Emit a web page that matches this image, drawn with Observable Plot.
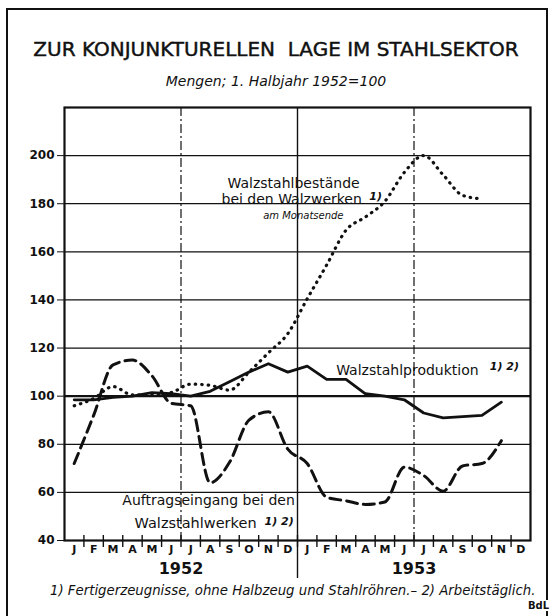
<!DOCTYPE html>
<html><head><meta charset="utf-8">
<script src="https://cdn.jsdelivr.net/npm/d3@7"></script>
<script src="https://cdn.jsdelivr.net/npm/@observablehq/plot@0.6"></script>
<style>
body{margin:0;background:#fff;}
#wrap{position:relative;width:552px;height:616px;overflow:hidden;font-family:"DejaVu Sans",sans-serif;color:#111;background:#fff;}
#chart{position:absolute;left:0;top:0;}
#border{position:absolute;left:6px;top:8px;width:542px;height:640px;border:2px solid #111;box-sizing:border-box;}
.t{position:absolute;white-space:nowrap;}
#title{top:37px;left:0;width:552px;text-align:center;font-size:20px;-webkit-text-stroke:0.45px #111;}
#subtitle{top:73px;left:0;width:552px;text-align:center;font-size:14px;font-style:italic;}
#foot{top:583px;left:50px;font-size:13.3px;font-style:italic;}
#bdl{top:600px;left:527px;font-size:10px;font-weight:bold;background:#fff;padding:0 1px;}
</style></head><body>
<div id="wrap">
<div id="chart"></div>
<div id="border"></div>
<div class="t" id="title"></div>
<div class="t" id="subtitle"></div>
<div class="t" id="foot"></div>
<div class="t" id="bdl"></div>
</div>
<script>
// ---- texts ----
const titleText = "ZUR KONJUNKTURELLEN\u00a0 LAGE IM STAHLSEKTOR";
const subtitleText = "Mengen; 1. Halbjahr 1952=100";
const footText = "1) Fertigerzeugnisse, ohne Halbzeug und Stahlröhren.– 2) Arbeitstäglich.";
const creditText = "BdL";

// ---- categories / ticks ----
const months = ["J","F","M","A","M","J","J","A","S","O","N","D"];
const years = ["1952","1953"];
const yTicks = [40,60,80,100,120,140,160,180,200];

// ---- series (monthly, from Jan 1952) ----
const auftragseingang = [72,92,113,115,108.5,97,96,64,72.5,90,93.5,78, 72,58,56.5,55,56,70.5,67,60.5,71,72,81.5];
const produktion = [98.5,98.5,99.5,100,101.5,101,100,102,106,110,113.5,110, 112.5,107,107,101,100,98.5,93,91,91.5,92,97.5];
const bestaende = [96,99,104,100.5,100.5,101.5,105,104.5,102.5,110,118,126, 140.5,154.5,169,174.5,181,193,200,192,183.5,182];

// ---- series labels ----
const labelBestaende = ["Walzstahlbestände","bei den Walzwerken","1)","am Monatsende"];
const labelProduktion = ["Walzstahlproduktion","1) 2)"];
const labelAuftrag = ["Auftragseingang bei den","Walzstahlwerken","1) 2)"];

document.getElementById("title").textContent = titleText;
document.getElementById("subtitle").textContent = subtitleText;
document.getElementById("foot").textContent = footText;
document.getElementById("bdl").textContent = creditText;

const toPts = vals => vals.map((v,i)=>({x:i+0.5, y:v}));
const nMonths = months.length*years.length;
const centers = d3.range(nMonths).map(i=>i+0.5);
const boundaries = d3.range(1,nMonths);

const ink = "#111";
const chart = Plot.plot({
  width:552, height:616,
  marginTop:107, marginBottom:76, marginLeft:64, marginRight:22,
  x:{domain:[0,nMonths]},
  y:{domain:[40,220]},
  style:{fontFamily:"DejaVu Sans, sans-serif", color:ink, background:"transparent"},
  marks:[
    Plot.ruleY(yTicks.filter(d=>d>40 && d!==100), {stroke:ink, strokeWidth:1.2}),
    Plot.ruleY([100], {stroke:ink, strokeWidth:2.4}),
    Plot.ruleX([12], {stroke:ink, strokeWidth:1.4, insetBottom:-38}),
    Plot.ruleX([6,18], {stroke:ink, strokeWidth:1.2, strokeDasharray:"9,3,2,3"}),
    Plot.ruleX(boundaries, {y1:40, y2:40, insetTop:-5, insetBottom:-7, stroke:ink, strokeWidth:1.4}),
    Plot.line(toPts(produktion), {x:"x", y:"y", stroke:ink, strokeWidth:2.8, strokeLinejoin:"round"}),
    Plot.line(toPts(auftragseingang), {x:"x", y:"y", stroke:ink, strokeWidth:3, strokeDasharray:"11,6", curve:"monotone-x"}),
    Plot.line(toPts(bestaende), {x:"x", y:"y", stroke:ink, strokeWidth:3.2, strokeDasharray:"0.5,6", strokeLinecap:"round", curve:"monotone-x"}),
    Plot.frame({stroke:ink, strokeWidth:2.2}),
    Plot.axisY(yTicks, {tickSize:7, tickPadding:3, fontSize:12, fontWeight:"bold", label:null, tickFormat:d=>String(d)}),
    Plot.axisX(centers, {tickSize:0, tickPadding:5, fontSize:11, fontWeight:"bold", label:null, tickFormat:d=>months[Math.floor(d)%12]}),
    Plot.text(years, {x:(d,i)=>i*12+6, y:40, dy:28, fontSize:16, fontWeight:"bold", fill:ink}),
    // labels
    Plot.text([labelBestaende[0]], {x:11.8, y:188.4, fontSize:14, fill:ink}),
    Plot.text([labelBestaende[1]], {x:11.7, y:181.7, fontSize:14, fill:ink}),
    Plot.text([labelBestaende[2]], {x:15.7, y:183, fontSize:11, fontStyle:"italic", fontWeight:"bold", textAnchor:"start", fill:ink}),
    Plot.text([labelBestaende[3]], {x:12.3, y:175.1, fontSize:10, fontStyle:"italic", fill:ink}),
    Plot.text([labelProduktion[0]], {x:17.66, y:110.7, fontSize:14, fill:ink}),
    Plot.text([labelProduktion[1]], {x:21.9, y:112.3, fontSize:11, fontStyle:"italic", fontWeight:"bold", textAnchor:"start", fill:ink}),
    Plot.text([labelAuftrag[0]], {x:7.42, y:56.6, fontSize:14, fill:ink}),
    Plot.text([labelAuftrag[1]], {x:6.75, y:47.1, fontSize:14.5, fill:ink}),
    Plot.text([labelAuftrag[2]], {x:10.3, y:48, fontSize:11, fontStyle:"italic", fontWeight:"bold", textAnchor:"start", fill:ink})
  ]
});
document.getElementById("chart").appendChild(chart);
</script>
</body></html>
